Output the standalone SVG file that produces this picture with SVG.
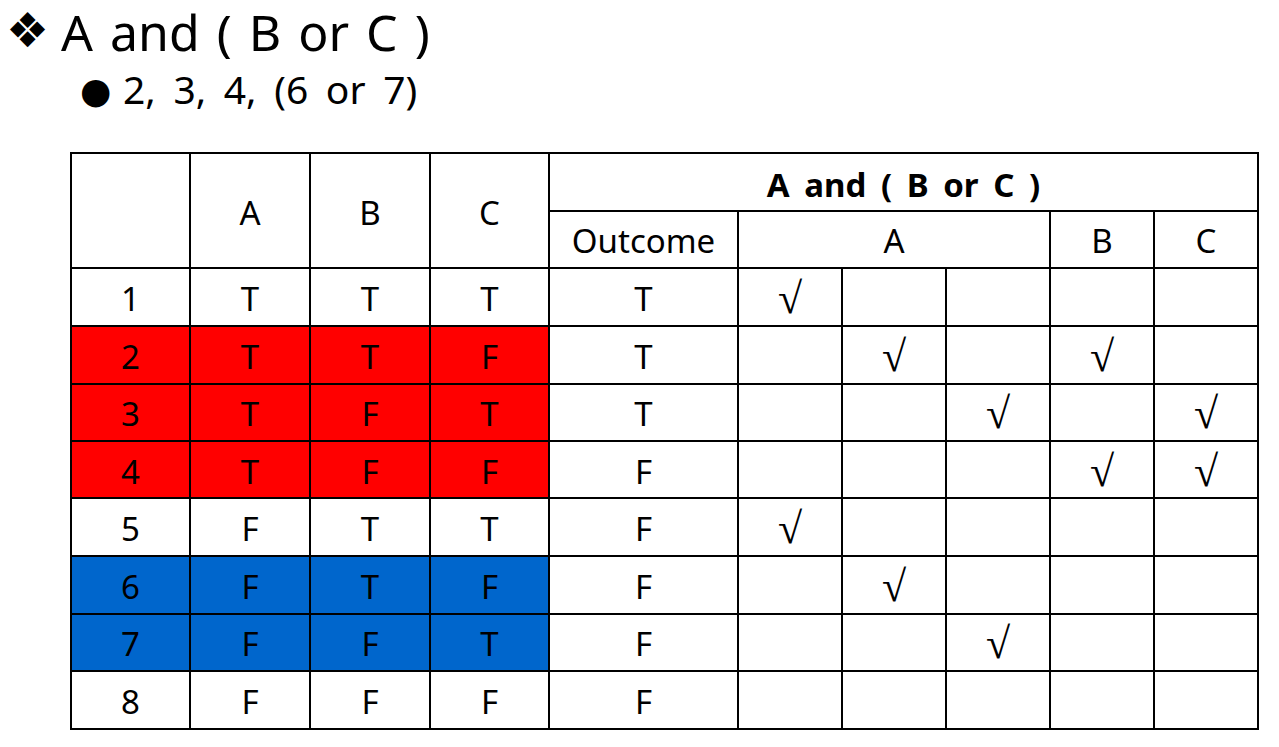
<svg xmlns="http://www.w3.org/2000/svg" width="1279" height="747" viewBox="0 0 1279 747">
<style>
.t{font-family:"Noto Sans","Open Sans","Liberation Sans",sans-serif;font-size:33px;fill:#000;text-anchor:middle}
.ck{font-family:"Liberation Serif","DejaVu Serif",serif;font-size:44px;fill:#000;text-anchor:middle}
.g{stroke:#000;stroke-width:2;fill:none}
</style>
<rect width="1279" height="747" fill="#fff"/>
<g id="title">
<text x="6" y="47" font-family="DejaVu Sans,sans-serif" font-size="48" fill="#000">❖</text>
<text x="61" y="51" font-family="Noto Sans,Open Sans,sans-serif" font-size="50" word-spacing="4" fill="#000">A and ( B or C )</text>
<text x="80" y="103" font-family="DejaVu Sans,sans-serif" font-size="36" fill="#000">●</text>
<text x="123" y="104" font-family="Noto Sans,Open Sans,sans-serif" font-size="39" word-spacing="7.5" fill="#000">2, 3, 4, (6 or 7)</text>
</g>
<g id="fills">
<rect x="71" y="326" width="478" height="172" fill="#FF0000"/>
<rect x="71" y="556" width="478" height="115" fill="#0066CC"/>
</g>
<g id="grid" class="g">
<rect x="71" y="153" width="1187" height="576"/>
<line x1="549" y1="211" x2="1258" y2="211"/>
<line x1="71" y1="268" x2="1258" y2="268"/>
<line x1="71" y1="326" x2="1258" y2="326"/>
<line x1="71" y1="384" x2="1258" y2="384"/>
<line x1="71" y1="441" x2="1258" y2="441"/>
<line x1="71" y1="498" x2="1258" y2="498"/>
<line x1="71" y1="556" x2="1258" y2="556"/>
<line x1="71" y1="614" x2="1258" y2="614"/>
<line x1="71" y1="671" x2="1258" y2="671"/>
<line x1="190" y1="153" x2="190" y2="729"/>
<line x1="310" y1="153" x2="310" y2="729"/>
<line x1="430" y1="153" x2="430" y2="729"/>
<line x1="549" y1="153" x2="549" y2="729"/>
<line x1="738" y1="211" x2="738" y2="729"/>
<line x1="842" y1="268" x2="842" y2="729"/>
<line x1="946" y1="268" x2="946" y2="729"/>
<line x1="1050" y1="211" x2="1050" y2="729"/>
<line x1="1154" y1="211" x2="1154" y2="729"/>
</g>
<g id="header">
<text class="t" x="250" y="225">A</text>
<text class="t" x="370" y="225">B</text>
<text class="t" x="489.5" y="225">C</text>
<text class="t" x="903.5" y="197" font-weight="bold" word-spacing="6">A and ( B or C )</text>
<text class="t" x="643.5" y="253">Outcome</text>
<text class="t" x="894" y="253">A</text>
<text class="t" x="1102" y="253">B</text>
<text class="t" x="1206" y="253">C</text>
</g>
<g id="rows">
<text class="t" x="130.5" y="311">1</text><text class="t" x="250" y="311">T</text><text class="t" x="370" y="311">T</text><text class="t" x="489.5" y="311">T</text><text class="t" x="643.5" y="311">T</text>
<text class="t" x="130.5" y="369">2</text><text class="t" x="250" y="369">T</text><text class="t" x="370" y="369">T</text><text class="t" x="489.5" y="369">F</text><text class="t" x="643.5" y="369">T</text>
<text class="t" x="130.5" y="426">3</text><text class="t" x="250" y="426">T</text><text class="t" x="370" y="426">F</text><text class="t" x="489.5" y="426">T</text><text class="t" x="643.5" y="426">T</text>
<text class="t" x="130.5" y="484">4</text><text class="t" x="250" y="484">T</text><text class="t" x="370" y="484">F</text><text class="t" x="489.5" y="484">F</text><text class="t" x="643.5" y="484">F</text>
<text class="t" x="130.5" y="541">5</text><text class="t" x="250" y="541">F</text><text class="t" x="370" y="541">T</text><text class="t" x="489.5" y="541">T</text><text class="t" x="643.5" y="541">F</text>
<text class="t" x="130.5" y="599">6</text><text class="t" x="250" y="599">F</text><text class="t" x="370" y="599">T</text><text class="t" x="489.5" y="599">F</text><text class="t" x="643.5" y="599">F</text>
<text class="t" x="130.5" y="656">7</text><text class="t" x="250" y="656">F</text><text class="t" x="370" y="656">F</text><text class="t" x="489.5" y="656">T</text><text class="t" x="643.5" y="656">F</text>
<text class="t" x="130.5" y="714">8</text><text class="t" x="250" y="714">F</text><text class="t" x="370" y="714">F</text><text class="t" x="489.5" y="714">F</text><text class="t" x="643.5" y="714">F</text>
</g>
<g id="checks">
<text class="ck" x="790" y="313">√</text>
<text class="ck" x="894" y="371">√</text><text class="ck" x="1102" y="371">√</text>
<text class="ck" x="998" y="428">√</text><text class="ck" x="1206" y="428">√</text>
<text class="ck" x="1102" y="486">√</text><text class="ck" x="1206" y="486">√</text>
<text class="ck" x="790" y="543">√</text>
<text class="ck" x="894" y="601">√</text>
<text class="ck" x="998" y="658">√</text>
</g>
</svg>
